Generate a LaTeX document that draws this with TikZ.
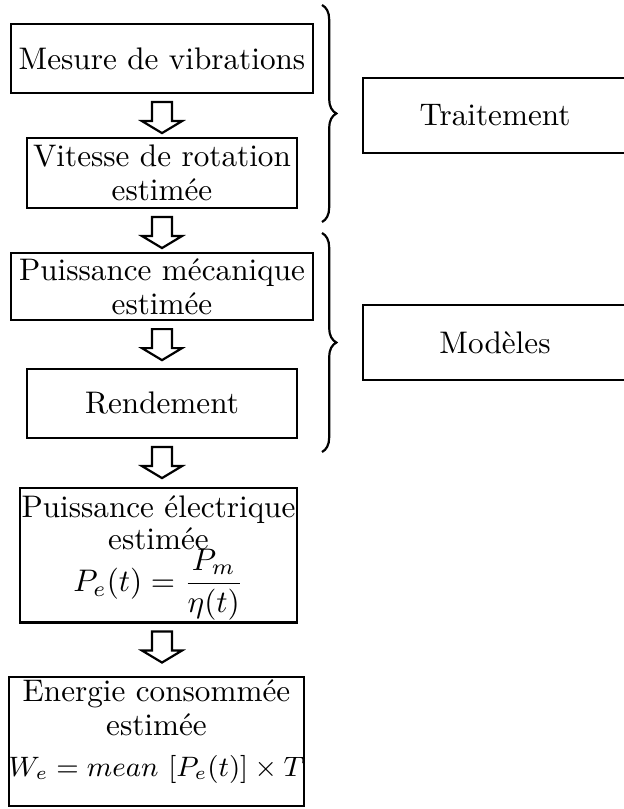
\documentclass[tikz,border=0pt]{standalone}
\usepackage{fontspec}
\usepackage{amsmath}
\usetikzlibrary{calc,decorations.pathreplacing}

% hollow block arrow going down from node #1 towards node #2
\newcommand\flecheBloc[2]{%
  \coordinate (#1-from) at ($(m1.south |- #1.south)+(0,8)$);
  \coordinate (#2-n) at (#1-from |- #2.north);
  \coordinate (#1-to) at ($(#1-from)!9.94pt!(#2-n)$);
  \draw[blockarrow] ($(#1-from)+(-10,0)$) -- ($(#1-from)+(10,0)$)
    -- ($(#1-to)+(10,-12)$) -- ($(#1-to)+(20,-12)$) -- (#1-to)
    -- ($(#1-to)+(-20,-12)$) -- ($(#1-to)+(-10,-12)$) -- cycle;
}
\newcommand\serreLignes{\lineskiplimit=-100pt\relax}

\begin{document}
\begin{tikzpicture}[x=0.3205pt, y=-0.3205pt,
  txt/.style={align=center, inner sep=0.6pt,
    font=\fontsize{10}{11}\selectfont,
    execute at begin node=\serreLignes},
  box/.style={txt, draw, line width=0.7pt},
  wide/.style={box, minimum width=96.8pt},
  narrow/.style={box, minimum width=86.5pt},
  side/.style={box, minimum width=84.6pt, minimum height=24pt},
  blockarrow/.style={draw, line width=0.7pt, fill=white, line join=miter},
  accolade/.style={decorate, line width=0.7pt,
    decoration={brace, amplitude=4.6pt}}]

\useasboundingbox (0,0) rectangle (624,809);

% processing chain
\node[wide, minimum height=22.1pt] (m1) at (162,58.5) {Mesure de vibrations};
\node[narrow, minimum height=22.4pt] (m2) at (162,173) {Vitesse de rotation\\estimée};
\node[wide, minimum height=21.5pt] (m3) at (162,286.5) {Puissance mécanique\\estimée};
\node[narrow, minimum height=22.1pt] (m4) at (162,403.5) {Rendement};
\node[box, anchor=north, font=\fontsize{10}{10.3}\selectfont] (m5) at (158.5,487)
  {\rule{0pt}{8.7pt}Puissance électrique\\estimée\\[3.2pt]$P_e(t) = \dfrac{P_m}{\eta(t)}$};
\node[box, anchor=north, inner xsep=0pt, minimum width=92.6pt] (m6) at (156.5,676)
  {\rule{0pt}{7.1pt}Energie consommée\\estimée\\[2.1pt]%
   {\fontsize{9.2}{11}\selectfont$W_e = mean\ [P_e(t)] \times T$}\\[-2pt]\mbox{}};

% arrows between the steps
\flecheBloc{m1}{m2}
\flecheBloc{m2}{m3}
\flecheBloc{m3}{m4}
\flecheBloc{m4}{m5}
\flecheBloc{m5}{m6}

% groups
\coordinate (g1top) at (322,5);
\coordinate (g1bot) at (322,222);
\coordinate (g2top) at (322,233);
\coordinate (g2bot) at (322,452);
\draw[accolade] (g1top) -- (g1bot);
\draw[accolade] (g2top) -- (g2bot);

\node[side] (trait) at (495,115.5) {Traitement};
\node[side] (mod) at (495,342.5) {Modèles};
\end{tikzpicture}
\end{document}
